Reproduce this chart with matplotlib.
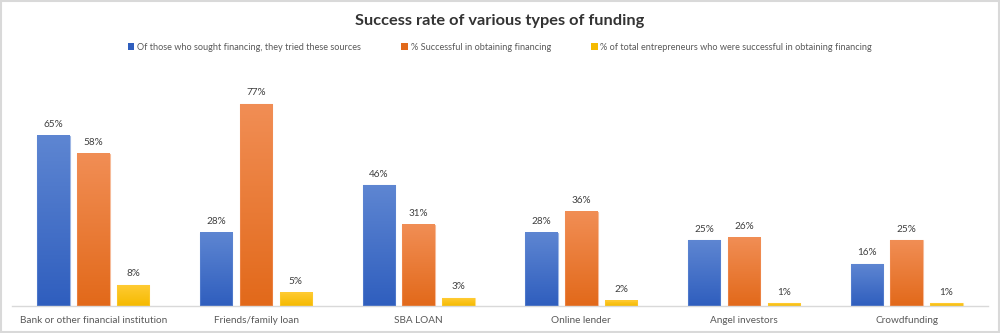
import matplotlib
matplotlib.use("Agg")
import matplotlib.pyplot as plt
import numpy as np
from matplotlib.colors import LinearSegmentedColormap
from matplotlib.patches import Rectangle, Patch

categories = ["Bank or other financial institution", "Friends/family loan", "SBA LOAN",
              "Online lender", "Angel investors", "Crowdfunding"]
series_names = ["Of those who sought financing, they tried these sources",
                "% Successful in obtaining financing",
                "% of total entrepreneurs who were successful in obtaining financing"]
tried = [65, 28, 46, 28, 25, 16]
successful = [58, 77, 31, 36, 26, 25]
total_successful = [8, 5, 3, 2, 1, 1]
title = "Success rate of various types of funding"

plt.rcParams['font.family'] = ['Lato', 'DejaVu Sans']

fig = plt.figure(figsize=(10, 3.33), dpi=100)
fig.patch.set_facecolor("white")
fig.patches.append(Rectangle((0.001, 0.002), 0.998, 0.996, transform=fig.transFigure,
                             fill=False, edgecolor="#D9D9D9", linewidth=1.5))

ax = fig.add_axes([0.012, 0.081, 0.976, 0.709])

grads = [("#5E86D2", "#2F5EBE"), ("#F18E55", "#E2691A"), ("#FFCB33", "#F5BA00")]
data = [tried, successful, total_successful]
x = np.arange(len(categories))
width = 0.2
offs = [-0.245, 0.0, 0.245]
grad = np.linspace(1, 0, 256).reshape(-1, 1)

for vals, off, (ctop, cbot), name in zip(data, offs, grads, series_names):
    bars = ax.bar(x + off, vals, width, color=cbot, label=name, zorder=2,
                  edgecolor="none")
    cmap = LinearSegmentedColormap.from_list("g", [cbot, ctop])
    for b, v in zip(bars, vals):
        b.set_facecolor("none")
        x0, w, h = b.get_x(), b.get_width(), b.get_height()
        ax.imshow(grad, cmap=cmap, extent=(x0, x0 + w, 0, h), aspect="auto",
                  zorder=2, interpolation="bilinear", vmin=0, vmax=1)
        ax.add_patch(Rectangle((x0, 0), w, h, fill=False, edgecolor=ctop,
                               linewidth=0.8, zorder=3, alpha=0.6))
        ax.text(x0 + w / 2, h + 2.6, f"{v}%", ha="center", va="bottom",
                fontsize=7.2, color="#404040")

ax.set_xlim(-0.5, 5.5)
ax.set_ylim(0, 90)
for s in ["top", "right", "left"]:
    ax.spines[s].set_visible(False)
ax.spines["bottom"].set_color("#D9D9D9")
ax.spines["bottom"].set_linewidth(1.0)
ax.set_yticks([])
ax.set_xticks(x)
ax.set_xticklabels(categories, fontsize=7.2, color="#595959")
ax.tick_params(axis="x", length=0, pad=7)

fig.text(0.5, 0.938, title, ha="center", va="center", fontsize=11.8,
         fontweight="bold", color="#333333")

handles = [Patch(facecolor=c[1], edgecolor="none") for c in grads]
fig.legend(handles, series_names, loc="center", bbox_to_anchor=(0.5, 0.858),
           ncol=3, frameon=False, fontsize=6.6, labelcolor="#595959",
           handlelength=0.7, handleheight=0.7, handletextpad=0.3,
           columnspacing=4.4)

fig.savefig("out.png", dpi=100, facecolor="white")
